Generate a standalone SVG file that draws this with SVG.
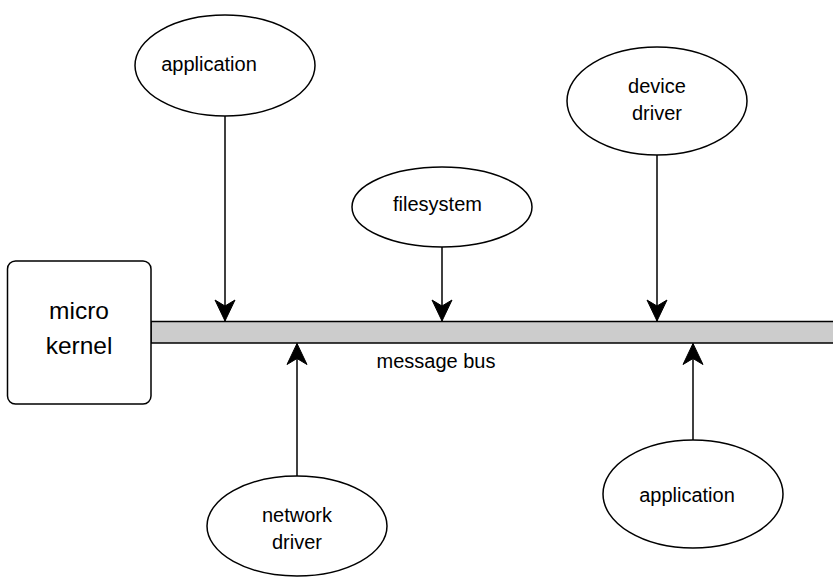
<svg xmlns="http://www.w3.org/2000/svg" width="833" height="582" viewBox="0 0 833 582">
<style>
.shape{fill:#fff;stroke:#000;stroke-width:1.5}
.bus{fill:#cccccc;stroke:#000;stroke-width:1.5}
.lbl{font-family:"Liberation Sans",Arial,sans-serif;font-size:20px;fill:#000;text-anchor:middle}
.big{font-size:24.5px}
.edge{fill:none;stroke:#000;stroke-width:1.5}
</style>
<defs>
<marker id="arr" markerUnits="userSpaceOnUse" markerWidth="24" markerHeight="24" viewBox="-22 -11 24 22" refX="0" refY="0" orient="auto">
<path d="M0,0 L-21,-10 L-15,0 L-21,10 Z" fill="#000" stroke="#000" stroke-width="1"/>
</marker>
</defs>
<rect width="833" height="582" fill="#fff"/>
<g id="bus">
<rect class="bus" x="151" y="321.5" width="700" height="21.5"/>
<text class="lbl" x="436" y="368">message bus</text>
</g>
<g id="microkernel">
<rect class="shape" x="7.5" y="261" width="143.5" height="143" rx="8"/>
<text class="lbl big" x="79" y="319">micro</text>
<text class="lbl big" x="79" y="354">kernel</text>
</g>
<g id="application-top">
<ellipse class="shape" cx="225" cy="65.5" rx="90" ry="50.5"/>
<text class="lbl" x="209" y="70.5">application</text>
</g>
<g id="filesystem">
<ellipse class="shape" cx="442" cy="207" rx="90" ry="40"/>
<text class="lbl" x="437.5" y="211">filesystem</text>
</g>
<g id="device-driver">
<ellipse class="shape" cx="657" cy="101" rx="90" ry="54"/>
<text class="lbl" x="657" y="93">device</text>
<text class="lbl" x="657" y="120">driver</text>
</g>
<g id="network-driver">
<ellipse class="shape" cx="297" cy="526" rx="90" ry="50"/>
<text class="lbl" x="297" y="521.5">network</text>
<text class="lbl" x="297" y="549">driver</text>
</g>
<g id="application-bottom">
<ellipse class="shape" cx="693" cy="494" rx="90" ry="54"/>
<text class="lbl" x="687" y="502">application</text>
</g>
<g id="connectors">
<path class="edge" d="M225,116 V321" marker-end="url(#arr)"/>
<path class="edge" d="M442,247 V321" marker-end="url(#arr)"/>
<path class="edge" d="M657,155 V321" marker-end="url(#arr)"/>
<path class="edge" d="M297,476 V343.5" marker-end="url(#arr)"/>
<path class="edge" d="M693,440 V343.5" marker-end="url(#arr)"/>
</g>
</svg>
